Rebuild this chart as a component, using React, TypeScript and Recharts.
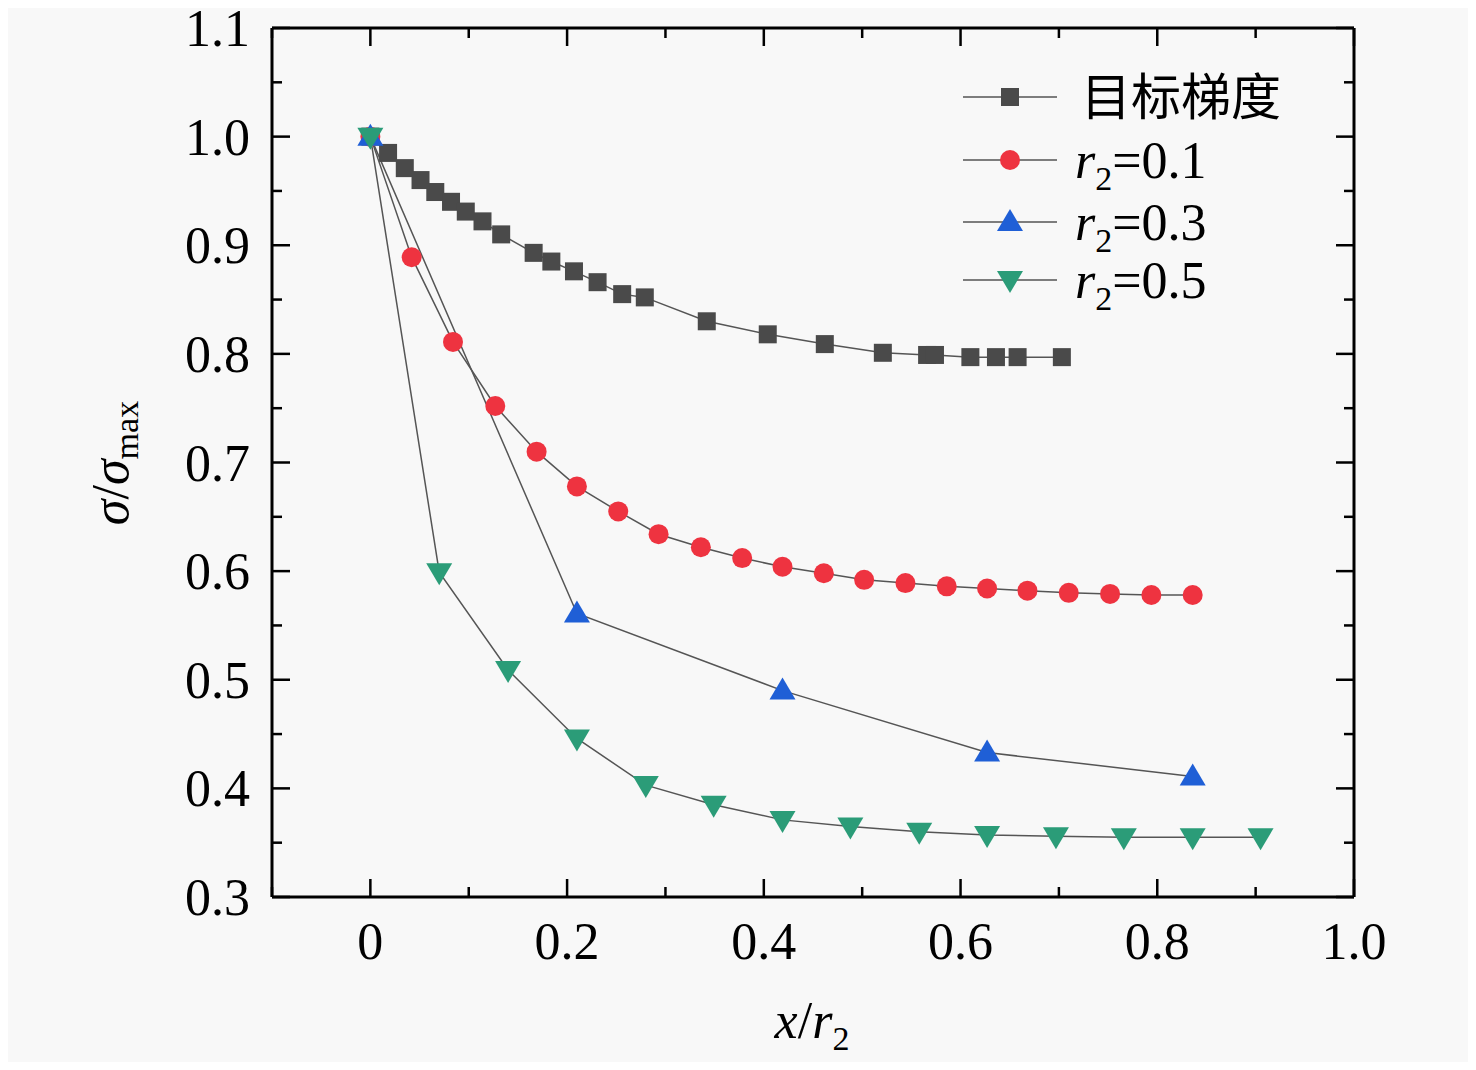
import React from 'react';
import { LineChart, Line, XAxis, YAxis } from 'recharts';

// x/r2 and sigma/sigma_max
const targetX = [0, 0.018, 0.035, 0.051, 0.066, 0.082, 0.097, 0.114, 0.133, 0.166, 0.184, 0.207, 0.231, 0.256, 0.279, 0.342, 0.404, 0.462, 0.521, 0.566, 0.574, 0.61, 0.636, 0.658, 0.703];
const targetY = [1.0, 0.985, 0.971, 0.96, 0.949, 0.94, 0.931, 0.922, 0.91, 0.893, 0.885, 0.876, 0.866, 0.855, 0.852, 0.83, 0.818, 0.809, 0.801, 0.799, 0.799, 0.797, 0.797, 0.797, 0.797];

const r01X = [0, 0.042, 0.084, 0.127, 0.169, 0.21, 0.252, 0.293, 0.336, 0.378, 0.419, 0.461, 0.502, 0.544, 0.586, 0.627, 0.668, 0.71, 0.752, 0.794, 0.836];
const r01Y = [1.0, 0.889, 0.811, 0.752, 0.71, 0.678, 0.655, 0.634, 0.622, 0.612, 0.604, 0.598, 0.592, 0.589, 0.586, 0.584, 0.582, 0.58, 0.579, 0.578, 0.578];

const r03X = [0, 0.21, 0.419, 0.627, 0.836];
const r03Y = [1.0, 0.561, 0.49, 0.433, 0.411];

const r05X = [0, 0.07, 0.14, 0.21, 0.28, 0.349, 0.419, 0.488, 0.558, 0.627, 0.697, 0.766, 0.836, 0.905];
const r05Y = [1.0, 0.599, 0.509, 0.446, 0.403, 0.385, 0.371, 0.365, 0.36, 0.357, 0.356, 0.355, 0.355, 0.355];

const xTicks = [-0.1, 0, 0.1, 0.2, 0.3, 0.4, 0.5, 0.6, 0.7, 0.8, 0.9, 1.0];
const xLabels = ['0', '0.2', '0.4', '0.6', '0.8', '1.0'];
const yTicks = [0.3, 0.35, 0.4, 0.45, 0.5, 0.55, 0.6, 0.65, 0.7, 0.75, 0.8, 0.85, 0.9, 0.95, 1.0, 1.05, 1.1];

const zip = (xs: number[], ys: number[]) => xs.map((x, i) => ({ x, y: ys[i] }));

const series = [
  { key: 'target', data: zip(targetX, targetY), color: '#4a4a4a', shape: 'square', name: '目标梯度' },
  { key: 'r01', data: zip(r01X, r01Y), color: '#ee3340', shape: 'circle', name: '0.1' },
  { key: 'r03', data: zip(r03X, r03Y), color: '#1f5fd6', shape: 'up', name: '0.3' },
  { key: 'r05', data: zip(r05X, r05Y), color: '#2b9c78', shape: 'down', name: '0.5' },
];

const FONT = '"Liberation Serif", "Times New Roman", serif';
const MAJOR = 18;
const MINOR = 10;

const isMajorX = (v: number) => Math.abs(Math.round(v * 10)) % 2 === 0 && v >= 0;
const isMajorY = (v: number) => Math.abs(v * 10 - Math.round(v * 10)) < 1e-6;
const xLabel = (v: number) => (v === 0 ? '0' : v.toFixed(1));

function Marker({ shape, cx, cy, color }: any) {
  if (cx == null || cy == null) return null;
  if (shape === 'square') return <rect x={cx - 9} y={cy - 9} width={18} height={18} fill={color} />;
  if (shape === 'circle') return <circle cx={cx} cy={cy} r={10} fill={color} />;
  if (shape === 'up')
    return <polygon points={`${cx},${cy - 13} ${cx - 13},${cy + 9} ${cx + 13},${cy + 9}`} fill={color} />;
  return <polygon points={`${cx},${cy + 13} ${cx - 13},${cy - 9} ${cx + 13},${cy - 9}`} fill={color} />;
}

const BottomTick = ({ x, y, payload }: any) => {
  const major = isMajorX(payload.value);
  const label = xLabel(payload.value);
  return (
    <g>
      <line x1={x} x2={x} y1={y} y2={y - (major ? MAJOR : MINOR)} stroke="#000" strokeWidth={2.5} />
      {major && xLabels.includes(label) && (
        <text x={x} y={y + 62} textAnchor="middle" fontFamily={FONT} fontSize={52} fill="#000">
          {label}
        </text>
      )}
    </g>
  );
};

const TopTick = ({ x, y, payload }: any) => (
  <line x1={x} x2={x} y1={y} y2={y + (isMajorX(payload.value) ? MAJOR : MINOR)} stroke="#000" strokeWidth={2.5} />
);

const LeftTick = ({ x, y, payload }: any) => {
  const major = isMajorY(payload.value);
  return (
    <g>
      <line x1={x} x2={x + (major ? MAJOR : MINOR)} y1={y} y2={y} stroke="#000" strokeWidth={2.5} />
      {major && (
        <text x={x - 22} y={y + 18} textAnchor="end" fontFamily={FONT} fontSize={52} fill="#000">
          {payload.value.toFixed(1)}
        </text>
      )}
    </g>
  );
};

const RightTick = ({ x, y, payload }: any) => (
  <line x1={x} x2={x - (isMajorY(payload.value) ? MAJOR : MINOR)} y1={y} y2={y} stroke="#000" strokeWidth={2.5} />
);

const LegendBox = () => (
  <svg width={360} height={240} style={{ position: 'absolute', left: 963, top: 69, overflow: 'visible' }}>
    {series.map((s, i) => {
      const cy = [28, 91, 153, 211][i];
      return (
        <g key={s.key}>
          <line x1={0} x2={94} y1={cy} y2={cy} stroke="#555" strokeWidth={1.5} />
          <Marker shape={s.shape} cx={47} cy={cy} color={s.color} />
          {i === 0 ? (
            <text x={118} y={cy + 18} fontFamily='"Noto Sans CJK SC", sans-serif' fontSize={50} fill="#000">
              {s.name}
            </text>
          ) : (
            <text x={112} y={cy + 18} fontFamily={FONT} fontSize={52} fill="#000">
              <tspan fontStyle="italic">r</tspan>
              <tspan fontSize={34} dy={12}>2</tspan>
              <tspan dy={-12}>={s.name}</tspan>
            </text>
          )}
        </g>
      );
    })}
  </svg>
);

const axisLine = { stroke: '#000', strokeWidth: 3 };

export default function App() {
  return (
    <div style={{ width: 1476, height: 1070, margin: -8, background: '#f8f8f8', position: 'relative' }}>
      <LineChart width={1476} height={1070} margin={{ top: 27, right: 121, bottom: 172, left: 271 }}>
        <XAxis
          xAxisId="b"
          dataKey="x"
          type="number"
          domain={[-0.1, 1.0]}
          ticks={xTicks}
          allowDataOverflow
          height={1}
          tickSize={0}
          tickMargin={0}
          tickLine={false}
          interval={0}
          axisLine={axisLine}
          tick={<BottomTick />}
          label={{
            content: () => (
              <text x={812} y={1038} textAnchor="middle" fontFamily={FONT} fontSize={52} fill="#000">
                <tspan fontStyle="italic">x</tspan>
                <tspan>/</tspan>
                <tspan fontStyle="italic">r</tspan>
                <tspan fontSize={34} dy={12}>2</tspan>
              </text>
            ),
          }}
        />
        <XAxis
          xAxisId="t"
          orientation="top"
          dataKey="x"
          type="number"
          domain={[-0.1, 1.0]}
          ticks={xTicks}
          allowDataOverflow
          height={1}
          tickSize={0}
          tickMargin={0}
          tickLine={false}
          interval={0}
          axisLine={axisLine}
          tick={<TopTick />}
        />
        <YAxis
          yAxisId="l"
          type="number"
          domain={[0.3, 1.1]}
          ticks={yTicks}
          allowDataOverflow
          width={1}
          tickSize={0}
          tickMargin={0}
          tickLine={false}
          interval={0}
          axisLine={axisLine}
          tick={<LeftTick />}
          label={{
            content: () => (
              <text
                x={128}
                y={463}
                transform="rotate(-90 128 463)"
                textAnchor="middle"
                fontFamily={FONT}
                fontSize={52}
                fill="#000"
              >
                <tspan fontStyle="italic">σ</tspan>
                <tspan>/</tspan>
                <tspan fontStyle="italic">σ</tspan>
                <tspan fontSize={34} dy={10}>max</tspan>
              </text>
            ),
          }}
        />
        <YAxis
          yAxisId="r"
          orientation="right"
          type="number"
          domain={[0.3, 1.1]}
          ticks={yTicks}
          allowDataOverflow
          width={1}
          tickSize={0}
          tickMargin={0}
          tickLine={false}
          interval={0}
          axisLine={axisLine}
          tick={<RightTick />}
        />
        {series.map((s) => (
          <Line
            key={s.key}
            xAxisId="b"
            yAxisId="l"
            data={s.data}
            dataKey="y"
            name={s.name}
            type="linear"
            stroke="#555"
            strokeWidth={1.5}
            isAnimationActive={false}
            dot={(p: any) => <Marker key={`${s.key}-${p.index}`} shape={s.shape} cx={p.cx} cy={p.cy} color={s.color} />}
            activeDot={false}
          />
        ))}
      </LineChart>
      <LegendBox />
    </div>
  );
}
